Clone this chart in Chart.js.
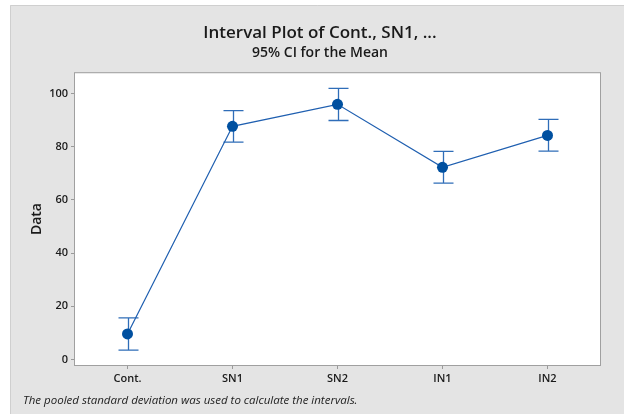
<!DOCTYPE html>
<html>
<head>
<meta charset="utf-8">
<script src="https://cdn.jsdelivr.net/npm/chart.js@4"></script>
<style>
  html, body { margin: 0; padding: 0; background: #fff; }
  #wrap { width: 624px; height: 414px; }
</style>
</head>
<body>
<div id="wrap"><canvas id="interval-plot" width="624" height="414"></canvas></div>
<script>
const categories = ["Cont.", "SN1", "SN2", "IN1", "IN2"];
const means = [9.6, 87.7, 96.0, 72.3, 84.3];
const ciLower = [3.5, 81.8, 89.9, 66.3, 78.4];
const ciUpper = [15.6, 93.6, 102.0, 78.3, 90.3];
const yTicks = [0, 20, 40, 60, 80, 100];

const FONT = "'Open Sans', 'Noto Sans', sans-serif";

// gray panel behind everything + frame around plot area + footnote
const panel = {
  id: "panel",
  beforeDraw(chart) {
    const c = chart.ctx;
    c.save();
    c.fillStyle = "#e4e4e4";
    c.fillRect(10, 5, 614, 409);
    c.strokeStyle = "#cfcfcf";
    c.lineWidth = 1;
    c.beginPath();
    c.moveTo(10.5, 414);
    c.lineTo(10.5, 5.5);
    c.lineTo(624, 5.5);
    c.stroke();
    const a = chart.chartArea;
    c.fillStyle = "#ffffff";
    c.fillRect(a.left, a.top, a.right - a.left, a.bottom - a.top);
    c.restore();
  },
  afterDraw(chart) {
    const c = chart.ctx;
    const a = chart.chartArea;
    c.save();
    c.strokeStyle = "#a0a0a0";
    c.lineWidth = 1;
    c.strokeRect(a.left - 0.5, a.top - 0.5, a.right - a.left + 1, a.bottom - a.top + 1);
    c.fillStyle = "#222";
    c.font = "italic 11.5px " + FONT;
    c.textBaseline = "middle";
    c.fillText("The pooled standard deviation was used to calculate the intervals.", 23, 401);
    c.restore();
  }
};

// confidence interval whiskers
const errorBars = {
  id: "errorBars",
  beforeDatasetsDraw(chart) {
    const c = chart.ctx;
    const x = chart.scales.x;
    const y = chart.scales.y;
    c.save();
    c.strokeStyle = "#2f6db8";
    c.lineWidth = 1.3;
    for (let i = 0; i < categories.length; i++) {
      const px = Math.round(x.getPixelForValue(i)) + 0.5;
      const top = y.getPixelForValue(ciUpper[i]);
      const bot = y.getPixelForValue(ciLower[i]);
      c.beginPath();
      c.moveTo(px, top);
      c.lineTo(px, bot);
      c.moveTo(px - 10, top);
      c.lineTo(px + 10, top);
      c.moveTo(px - 10, bot);
      c.lineTo(px + 10, bot);
      c.stroke();
    }
    c.restore();
  }
};

new Chart(document.getElementById("interval-plot"), {
  type: "line",
  data: {
    labels: categories,
    datasets: [{
      data: means,
      borderColor: "#1f5fb0",
      borderWidth: 1.2,
      pointBackgroundColor: "#0050a0",
      pointBorderColor: "#0050a0",
      pointRadius: 5.5,
      pointBorderWidth: 0,
      tension: 0,
      fill: false
    }]
  },
  options: {
    responsive: false,
    animation: false,
    layout: { padding: { left: 16, right: 0, top: 5, bottom: 9 } },
    plugins: {
      legend: { display: false },
      tooltip: { enabled: false },
      title: {
        display: true,
        text: "Interval Plot of Cont., SN1, ...",
        color: "#1a1a1a",
        font: { family: FONT, size: 17, weight: "600", lineHeight: 1.2 },
        padding: { top: 18, bottom: 1 }
      },
      subtitle: {
        display: true,
        text: "95% CI for the Mean",
        color: "#1a1a1a",
        font: { family: FONT, size: 14, weight: "600", lineHeight: 1.2 },
        padding: { top: 0, bottom: 12 }
      }
    },
    scales: {
      x: {
        type: "category",
        offset: true,
        grid: { display: true, drawOnChartArea: false, offset: false, color: "#999", tickLength: 4 },
        border: { display: false },
        ticks: {
          color: "#1a1a1a",
          padding: 3,
          font: { family: FONT, size: 11, weight: "600" }
        },
        afterFit(s) { s.height = 40; }
      },
      y: {
        min: -2.1,
        max: 107.7,
        afterBuildTicks(s) { s.ticks = yTicks.map(v => ({ value: v })); },
        grid: { display: true, drawOnChartArea: false, color: "#999", tickLength: 4 },
        border: { display: false },
        ticks: {
          color: "#1a1a1a",
          padding: 3,
          font: { family: FONT, size: 11, weight: "600" }
        },
        title: {
          display: true,
          text: "Data",
          color: "#1a1a1a",
          font: { family: FONT, size: 14, weight: "600", lineHeight: 1.2 },
          padding: { top: 12.5, bottom: 0 }
        },
        afterFit(s) { s.width = 59; }
      },
      // empty right-hand spacer so the title centres like the original
      y2: {
        position: "right",
        display: true,
        grid: { display: false },
        border: { display: false },
        ticks: { display: false },
        afterFit(s) { s.width = 24; }
      }
    }
  },
  plugins: [panel, errorBars]
});
</script>
</body>
</html>
